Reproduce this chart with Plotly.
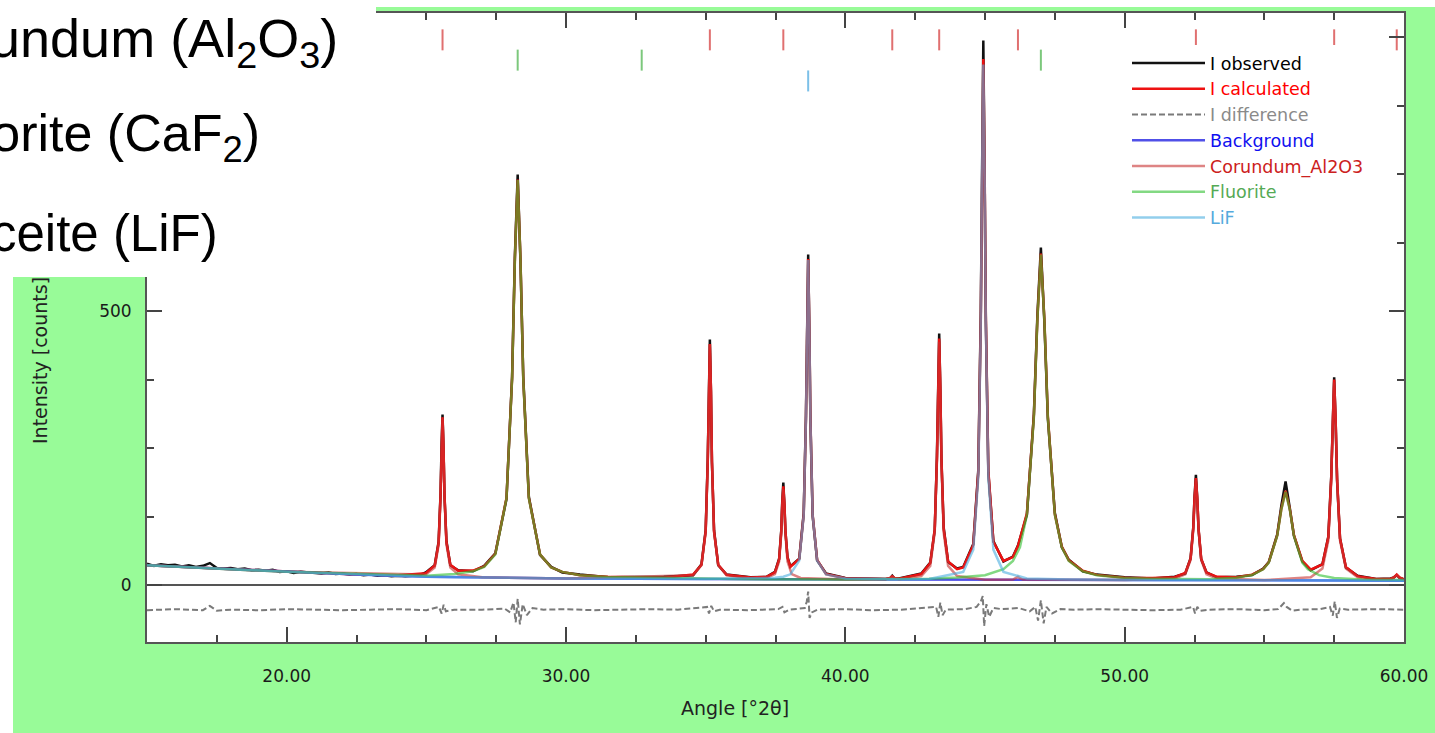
import plotly.graph_objects as go

# ---------------- data ----------------
# reflection positions (deg 2theta)
cor_refl = [25.58, 35.15, 37.78, 41.68, 43.36, 46.18, 52.55, 57.50, 59.74]
fl_refl = [28.27, 32.71, 47.00, 55.76]
lif_refl = [38.67, 44.94]
refl_rows = [995, 958, 920]   # counts level of the three reflection rows

# observed pattern: noisy low-angle part
obs_x_low = [15.0, 15.25, 15.5, 15.75, 16.0, 16.25, 16.5, 16.75, 17.0, 17.25,
             17.5, 17.75, 18.0, 18.25, 18.5, 18.75, 19.0, 19.25, 19.5, 19.75,
             20.0, 20.25, 20.5, 20.75, 21.0, 21.25, 21.5, 21.75, 22.0, 22.25,
             22.5, 22.75, 23.0, 23.25, 23.5, 23.75, 24.0, 24.25, 24.5, 24.75]
obs_y_low = [39, 35, 38, 36, 37, 34, 36, 33, 35, 40,
             31, 30, 31, 29, 30, 27, 28, 26, 28, 24,
             25, 22, 24, 23, 22, 21, 23, 20, 21, 19,
             20, 18, 19, 17, 18, 16, 17, 16, 17, 18]

# peak-region sampling (shared by observed and calculated)
peak_x = [24.98, 25.30, 25.44, 25.51, 25.545, 25.58, 25.615, 25.65, 25.72, 25.86, 26.14,
          26.67, 27.07, 27.47, 27.87, 28.07, 28.17, 28.27, 28.37, 28.47, 28.67, 29.07, 29.47, 29.87, 30.5, 31.5, 33.5,
          34.55, 34.85, 35.00, 35.075, 35.11, 35.15, 35.19, 35.225, 35.30, 35.45, 35.75, 36.6,
          37.18, 37.48, 37.63, 37.705, 37.74, 37.78, 37.82, 37.855, 37.93, 38.03,
          38.35, 38.51, 38.59, 38.63, 38.67, 38.71, 38.75, 38.83, 38.99, 39.31, 40.0,
          41.44, 41.6, 41.68, 41.76, 41.92,
          42.72, 43.04, 43.20, 43.28, 43.32, 43.36, 43.40, 43.44, 43.52, 43.68, 44.00,
          44.22, 44.58, 44.76, 44.85, 44.895, 44.94, 44.985, 45.03, 45.12, 45.30, 45.66,
          46.0, 46.18, 46.5, 46.75, 46.875, 47.0, 47.125, 47.25, 47.5, 47.75, 48.0, 48.5, 49.0, 50.0, 51.0,
          51.79, 52.17, 52.36, 52.455, 52.50, 52.55, 52.60, 52.645, 52.74, 52.93, 53.31,
          54.0, 54.56, 54.96, 55.16, 55.46, 55.61, 55.76, 55.91, 56.06, 56.36, 56.66,
          57.08, 57.29, 57.395, 57.4475, 57.50, 57.5525, 57.605, 57.71, 57.92, 58.34, 59.0,
          59.52, 59.64, 59.74, 59.84, 59.96, 60.0]
obs_y_peak = [23, 36, 79, 168, 256, 311, 250, 163, 80, 36, 27,
              25, 35, 58, 157, 380, 600, 749, 590, 380, 161, 55, 33, 23, 19, 14, 15,
              18, 38, 100, 230, 358, 448, 350, 223, 100, 36, 19, 14,
              15, 24, 48, 99, 150, 187, 146, 98, 51, 34,
              48, 131, 309, 484, 603, 472, 300, 126, 45, 21, 13,
              11, 12, 17, 12, 12,
              21, 41, 100, 236, 367, 459, 358, 231, 105, 42, 30,
              33, 75, 210, 500, 790, 994, 760, 482, 205, 80, 43,
              52, 72, 128, 312, 492, 616, 480, 304, 132, 69, 46, 25, 19, 14, 12,
              15, 21, 49, 105, 160, 201, 156, 101, 47, 23, 14,
              15, 18, 30, 42, 92, 145, 189, 141, 90, 43, 27,
              38, 88, 198, 308, 379, 298, 190, 85, 32, 17, 11,
              12, 14, 18, 13, 11, 10]

# calculated pattern
calc_x_low = [15.0, 17.5, 20.0, 22.5, 24.0]
calc_y_low = [36, 30, 24, 19, 18]
calc_y_peak = [21.6, 35.5, 77, 165, 252, 306, 252, 165, 78, 37, 26,
               26.4, 34, 57, 159, 377, 595, 740, 595, 377, 159, 56, 32, 24, 18, 15, 13.3,
               19, 37, 98, 226, 354, 440, 354, 226, 98, 37, 18.6, 13.7,
               14.8, 23, 47, 97, 147, 180, 148, 99, 50, 33,
               47.5, 129, 304, 478, 595, 478, 304, 128, 46, 20, 12.4,
               11, 13, 16, 13, 11.5,
               20, 40, 102, 232, 362, 450, 363, 233, 103, 43, 29,
               32, 73, 206, 489, 772, 960, 772, 490, 209, 79, 44,
               51, 71, 131, 309, 486, 605, 486, 308, 129, 70, 45, 26, 18.5, 13.4, 12.6,
               14.2, 22.2, 48, 103, 158, 195, 158, 103, 48, 22.6, 14.9,
               14.4, 19, 29.2, 41.7, 90.5, 139, 172, 139.4, 91, 44, 28,
               37.7, 87, 195, 303, 375, 302.5, 193.7, 84.7, 33, 16.2, 11.1,
               11, 14, 19, 14, 11, 10]

# difference curve (plotted with an offset, as in the reference)
diff_x = [15, 16, 17, 17.25, 17.5, 18, 19, 20, 21, 22, 23, 24, 25,
          25.45, 25.55, 25.62, 25.7, 26,
          27, 27.8, 28.0, 28.12, 28.2, 28.27, 28.35, 28.45, 28.6, 28.8, 29.2,
          30, 31, 32, 33, 34,
          35.05, 35.12, 35.2, 35.3, 35.5,
          36.5, 37.6, 37.75, 37.82, 38.0,
          38.55, 38.62, 38.67, 38.72, 38.8, 39.0,
          40, 41, 42,
          43.25, 43.33, 43.4, 43.48, 43.6,
          44.3, 44.7, 44.85, 44.92, 44.97, 45.05, 45.15, 45.3, 45.6,
          46.2, 46.6, 46.8, 46.9, 47.0, 47.1, 47.2, 47.4, 47.7, 48.2,
          49, 50, 51, 52,
          52.45, 52.52, 52.6, 52.7, 53,
          54, 55, 55.5, 55.7, 55.8, 56.0, 56.3,
          57.0, 57.35, 57.45, 57.52, 57.6, 57.7, 58.0,
          59, 60]
diff_y = [-46, -44, -46, -38, -47, -45, -46, -44, -45, -46, -45, -44, -46,
          -40, -52, -36, -48, -45,
          -45, -43, -50, -32, -68, -25, -72, -35, -55, -42, -45,
          -44, -46, -45, -44, -45,
          -40, -52, -38, -48, -45,
          -46, -44, -40, -50, -45,
          -42, -30, -12, -60, -50, -45,
          -44, -46, -45,
          -40, -58, -32, -55, -45,
          -44, -40, -30, -20, -75, -35, -58, -42, -44,
          -42, -48, -40, -65, -28, -70, -40, -52, -44, -45,
          -44, -45, -46, -45,
          -40, -52, -40, -47, -45,
          -44, -46, -44, -33, -40, -47, -45,
          -44, -40, -56, -30, -60, -43, -45,
          -44, -45]

# background
bg_x = [15, 17.5, 20, 22.5, 25, 27.5, 30, 35, 40, 45, 50, 55, 60]
bg_y = [36, 30, 24, 19, 15, 13, 12, 11, 10, 9, 9, 8.5, 8]

# phase profiles (background + phase contribution)
cor_x = [15, 20, 24.98, 25.30, 25.44, 25.51, 25.545, 25.58, 25.615, 25.65, 25.72, 25.86, 26.14, 27.0, 30.0,
         34.55, 34.85, 35.00, 35.075, 35.11, 35.15, 35.19, 35.225, 35.30, 35.45, 35.75, 36.6,
         37.18, 37.48, 37.63, 37.705, 37.74, 37.78, 37.82, 37.855, 37.93, 38.08, 38.4, 40.0,
         41.44, 41.6, 41.68, 41.76, 41.92,
         42.72, 43.04, 43.20, 43.28, 43.32, 43.36, 43.40, 43.44, 43.52, 43.68, 44.0, 45.0,
         46.0, 46.1, 46.18, 46.26, 46.36, 50.0,
         51.79, 52.17, 52.36, 52.455, 52.50, 52.55, 52.60, 52.645, 52.74, 52.93, 53.31, 55.0,
         56.66, 57.08, 57.29, 57.395, 57.4475, 57.50, 57.5525, 57.605, 57.71, 57.92, 58.34, 59.0,
         59.52, 59.64, 59.74, 59.84, 59.96, 60.0]
cor_y = [36, 24, 19, 32, 73, 161, 248, 306, 248, 161, 74, 32, 19.5, 14, 12,
         17.8, 36, 97, 225, 353, 439, 353, 225, 97, 36, 17.8, 12,
         13, 20, 43, 93, 142, 175, 142, 93, 43, 20, 13, 10,
         10.5, 13, 16, 13, 10.5,
         16.4, 35, 96, 227, 357, 444, 357, 227, 96, 35, 16.3, 9.5,
         10, 12, 15, 12, 10, 9,
         11.7, 19.7, 45.6, 100.7, 155.7, 192, 155.7, 100.7, 45.6, 19.7, 11.7, 9,
         14, 30, 81, 190, 298, 370, 298, 190, 81, 30, 14, 10,
         10.5, 13.5, 18, 13.5, 10.5, 10]

fl_x = [15, 20, 25, 26.0, 26.67, 27.07, 27.47, 27.87, 28.07, 28.17, 28.27, 28.37, 28.47, 28.67, 29.07, 29.47,
        29.87, 30.5, 31.5, 33.5, 36.0, 40.0, 43.0, 44.0, 45.0, 45.66, 46.0, 46.25, 46.5, 46.75, 46.875,
        47.0, 47.125, 47.25, 47.5, 47.75, 48.0, 48.5, 49.0, 50.0, 51.0, 53.0, 54.0, 54.56, 54.96, 55.16,
        55.46, 55.61, 55.76, 55.91, 56.06, 56.36, 56.56, 56.96, 57.5, 58.5, 60.0]
fl_y = [36, 24, 17, 20, 25, 33, 56, 158, 376, 594, 739, 594, 376, 158, 56, 32,
        24, 18, 14.5, 12.5, 11, 10, 11.5, 13.5, 18, 29, 44, 69, 128, 306, 484,
        603, 484, 306, 128, 69, 44, 25, 18, 13, 11.5, 10.5, 13.3, 18.2, 28.6, 41,
        89.6, 138, 170, 138, 89.6, 41, 28.6, 18, 13, 10, 9]

lif_x = [15, 20, 25, 30, 35, 36.6, 37.18, 37.48, 37.78, 38.03, 38.35, 38.51, 38.59, 38.63, 38.67, 38.71,
         38.75, 38.83, 38.99, 39.31, 40.0, 42.0, 43.0, 44.22, 44.58, 44.76, 44.85, 44.895, 44.94, 44.985,
         45.03, 45.12, 45.30, 45.66, 46.5, 48.0, 50.0, 55.0, 60.0]
lif_y = [36, 24, 15, 12, 11.2, 11.9, 12.3, 13.2, 15.2, 19.5, 44.7, 127, 302, 476, 593, 476,
         302, 127, 44.7, 19.4, 12.1, 10.5, 11, 24, 64.7, 197, 479, 762, 950, 762,
         479, 197, 64.7, 24, 12, 10, 9, 8.5, 8]

x_tick_vals = [20, 30, 40, 50, 60]
y_tick_vals = [0, 500, 1000]
y_tick_text = ["0", "500", ""]   # the 1000 label is hidden behind the text panel

# ---------------- layout geometry ----------------
W, H = 1435, 733
ML, MR, MT, MB = 147, 31, 13, 91
PW, PH = W - ML - MR, H - MT - MB


def pxx(px):
    return (px - ML) / PW


def pxy(py):
    return (H - MB - py) / PH


GREEN = "#98FB98"
TICKFONT = dict(family="DejaVu Sans", size=17, color="#1a1a1a")

fig = go.Figure()

# reflection markers
for xs, row, col in [(cor_refl, refl_rows[0], "#E07070"),
                     (fl_refl, refl_rows[1], "#7CC87C"),
                     (lif_refl, refl_rows[2], "#7CC0E8")]:
    fig.add_trace(go.Scatter(x=xs, y=[row] * len(xs), mode="markers",
                             marker=dict(symbol="line-ns", size=15,
                                         line=dict(width=2, color=col)),
                             showlegend=False, hoverinfo="skip"))

obs_x = obs_x_low + peak_x
obs_y = obs_y_low + obs_y_peak
calc_x = calc_x_low + peak_x
calc_y = calc_y_low + calc_y_peak

fig.add_trace(go.Scatter(x=obs_x, y=obs_y, mode="lines",
                         name="<span style='color:#000000'>I observed</span>",
                         line=dict(color="#111111", width=2.5)))
fig.add_trace(go.Scatter(x=calc_x, y=calc_y, mode="lines",
                         name="<span style='color:#FF0000'>I calculated</span>",
                         line=dict(color="#EE1111", width=2.5)))
fig.add_trace(go.Scatter(x=diff_x, y=diff_y, mode="lines",
                         name="<span style='color:#8A8A8A'>I difference</span>",
                         line=dict(color="#7A7A7A", width=2, dash="6px,3px")))
fig.add_trace(go.Scatter(x=bg_x, y=bg_y, mode="lines",
                         name="<span style='color:#1010F0'>Background</span>",
                         line=dict(color="#5050E8", width=2.5)))
fig.add_trace(go.Scatter(x=cor_x, y=cor_y, mode="lines", opacity=0.6,
                         name="<span style='color:#CC2020'>Corundum_Al2O3</span>",
                         line=dict(color="#C83232", width=2.5)))
fig.add_trace(go.Scatter(x=fl_x, y=fl_y, mode="lines", opacity=0.6,
                         name="<span style='color:#55AA55'>Fluorite</span>",
                         line=dict(color="#30C030", width=2.5)))
fig.add_trace(go.Scatter(x=lif_x, y=lif_y, mode="lines", opacity=0.6,
                         name="<span style='color:#55AADD'>LiF</span>",
                         line=dict(color="#4AAEE0", width=2.5)))

axis_common = dict(showline=True, linecolor="#555555", linewidth=2, mirror="allticks",
                   ticks="inside", ticklen=15, tickwidth=2, tickcolor="#444444",
                   showgrid=False, tickfont=TICKFONT, automargin=False)

fig.update_xaxes(range=[15, 60], tickvals=x_tick_vals, tickformat=".2f",
                 zeroline=False, ticklabelstandoff=18,
                 minor=dict(dtick=2.5, tick0=0, ticks="inside", ticklen=7,
                            tickwidth=2, tickcolor="#444444"),
                 **axis_common)
fig.update_yaxes(range=[-104, 1044], tickvals=y_tick_vals, ticktext=y_tick_text,
                 zeroline=True, zerolinecolor="#555555", zerolinewidth=2,
                 ticklabelstandoff=10,
                 minor=dict(dtick=125, tick0=0, ticks="inside", ticklen=7,
                            tickwidth=2, tickcolor="#444444"),
                 **axis_common)

annotations = [
    # axis titles
    dict(text="Intensity [counts]", textangle=-90, x=pxx(40), y=pxy(361),
         xanchor="center", yanchor="middle",
         font=dict(family="DejaVu Sans", size=19, color="#222222")),
    dict(text="Angle [°2θ]", x=pxx(735), y=pxy(708), xanchor="center", yanchor="middle",
         font=dict(family="DejaVu Sans", size=19, color="#222222")),
    # mineral labels (left part runs off the page, as in the reference)
    dict(text="Corundum (Al<sub>2</sub>O<sub>3</sub>)", x=pxx(339), y=pxy(42),
         xanchor="right", yanchor="middle", borderpad=0,
         font=dict(family="Liberation Sans", size=54, color="#000000")),
    dict(text="Fluorite (CaF<sub>2</sub>)", x=pxx(261), y=pxy(137),
         xanchor="right", yanchor="middle", borderpad=0,
         font=dict(family="Liberation Sans", size=52, color="#000000")),
    dict(text="Griceite (LiF)", x=pxx(219), y=pxy(234),
         xanchor="right", yanchor="middle", borderpad=0,
         font=dict(family="Liberation Sans", size=51, color="#000000")),
]
for a in annotations:
    a.update(xref="paper", yref="paper", showarrow=False)

shapes = [
    # white strips around the green frame
    dict(type="rect", xref="paper", yref="paper", layer="below",
         x0=pxx(0), x1=pxx(13), y0=pxy(H), y1=pxy(0),
         fillcolor="white", line=dict(width=0)),
    dict(type="rect", xref="paper", yref="paper", layer="below",
         x0=pxx(0), x1=pxx(W), y0=pxy(7), y1=pxy(0),
         fillcolor="white", line=dict(width=0)),
    # white text panel covering the top-left corner
    dict(type="rect", xref="paper", yref="paper", layer="above",
         x0=pxx(0), x1=pxx(376), y0=pxy(277), y1=pxy(0),
         fillcolor="white", line=dict(width=0)),
]

fig.update_layout(
    width=W, height=H,
    margin=dict(l=ML, r=MR, t=MT, b=MB, pad=0),
    paper_bgcolor=GREEN, plot_bgcolor="white",
    annotations=annotations, shapes=shapes,
    showlegend=True,
    legend=dict(x=pxx(1127), y=pxy(45), xanchor="left", yanchor="top",
                bgcolor="white", borderwidth=0, itemwidth=73, tracegroupgap=0,
                font=dict(family="DejaVu Sans", size=17.5, color="#000000")),
    hovermode=False,
)

fig.write_html("out.html",
               config={"displayModeBar": False},
               post_script="document.body.style.margin='0px';"
                           "document.body.style.overflow='hidden';")
